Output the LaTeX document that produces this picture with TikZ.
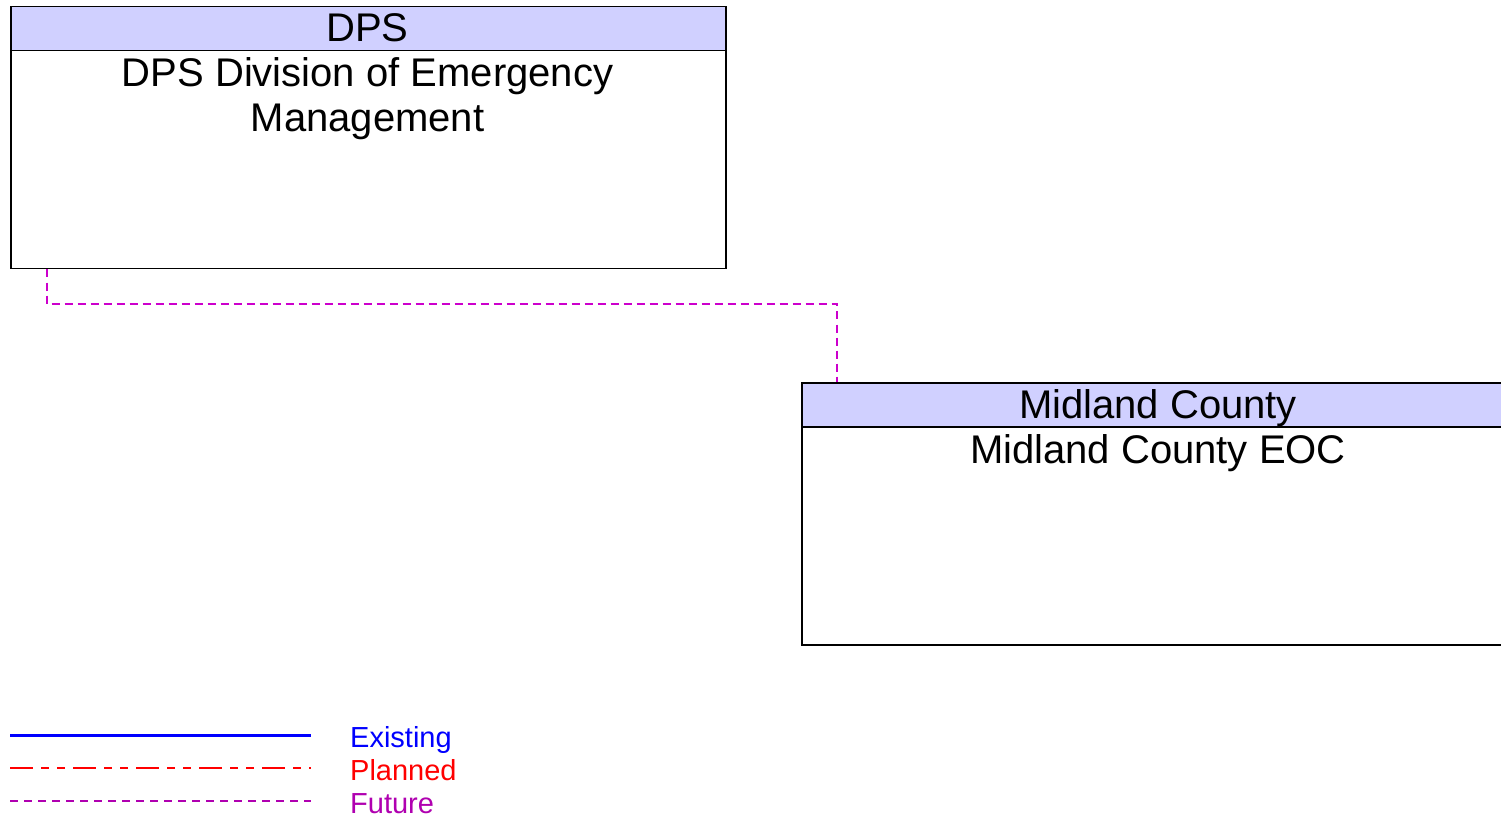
\documentclass[tikz,border=0pt]{standalone}
\usepackage{fontspec}
\setmainfont{Liberation Sans}
\usetikzlibrary{calc}
\definecolor{hdrfill}{RGB}{208,208,255}
\definecolor{futcol}{RGB}{204,0,204}
\definecolor{futlegend}{RGB}{176,0,176}
\tikzset{
  boxbody/.style={draw=black, line width=1.5pt, fill=white, inner sep=0pt, anchor=north west},
  boxhead/.style={draw=black, line width=1.5pt, fill=hdrfill, inner sep=0pt, anchor=north west},
  bigtext/.style={font=\fontsize{40}{45}\selectfont, inner sep=0pt, anchor=base, align=center},
  legtext/.style={font=\fontsize{29}{33}\selectfont, inner sep=0pt, anchor=base west},
  futureline/.style={draw=futcol, line width=1.2pt, dash pattern=on 8pt off 5pt},
  legexist/.style={draw=blue, line width=3pt},
  legplan/.style={draw=red, line width=1.2pt, dash pattern=on 23pt off 8pt on 8pt off 8pt on 8pt off 8pt},
  legfut/.style={draw=futlegend, line width=1.2pt, dash pattern=on 8pt off 6pt},
}
\begin{document}
\begin{tikzpicture}[x=1pt,y=-1pt]
\clip (0,0) rectangle (1501,818);
\fill[white] (0,0) rectangle (1501,818);
% DPS box
\node[boxbody, minimum width=715pt, minimum height=262pt] (dps) at (10,6) {};
\node[boxhead, minimum width=715pt, minimum height=44pt] (dpshead) at (10,6) {};
\node[bigtext] (dpst) at (367.5,42) {DPS};
\node[bigtext] (dpsb) at (367.5,132) {DPS Division of Emergency\\Management};
% Midland box
\node[boxbody, minimum width=710pt, minimum height=262pt] (mid) at (801,382) {};
\node[boxhead, minimum width=710pt, minimum height=44pt] (midhead) at (801,382) {};
\node[bigtext] (midt) at (1158,418) {Midland County};
\node[bigtext] (midb) at (1158,463) {Midland County EOC};
% connector
\coordinate (c1) at ($(dps.south west)+(37,0)$);
\coordinate (c2) at ($(mid.north west)+(36,0)$);
\draw[futureline] (c1) |- ($(c2)+(0,-78)$) -- (c2);
% legend
\coordinate (l1a) at (10,735); \coordinate (l1b) at (311,735);
\coordinate (l2a) at (10,768); \coordinate (l2b) at (311,768);
\coordinate (l3a) at (10,801); \coordinate (l3b) at (311,801);
\draw[legexist] (l1a) -- (l1b);
\draw[legplan] (l2a) -- (l2b);
\draw[legfut] (l3a) -- (l3b);
\node[legtext, text=blue] (lex) at (350,747) {Existing};
\node[legtext, text=red] (lpl) at (350,780) {Planned};
\node[legtext, text=futlegend] (lfu) at (350,813) {Future};
\end{tikzpicture}
\end{document}
